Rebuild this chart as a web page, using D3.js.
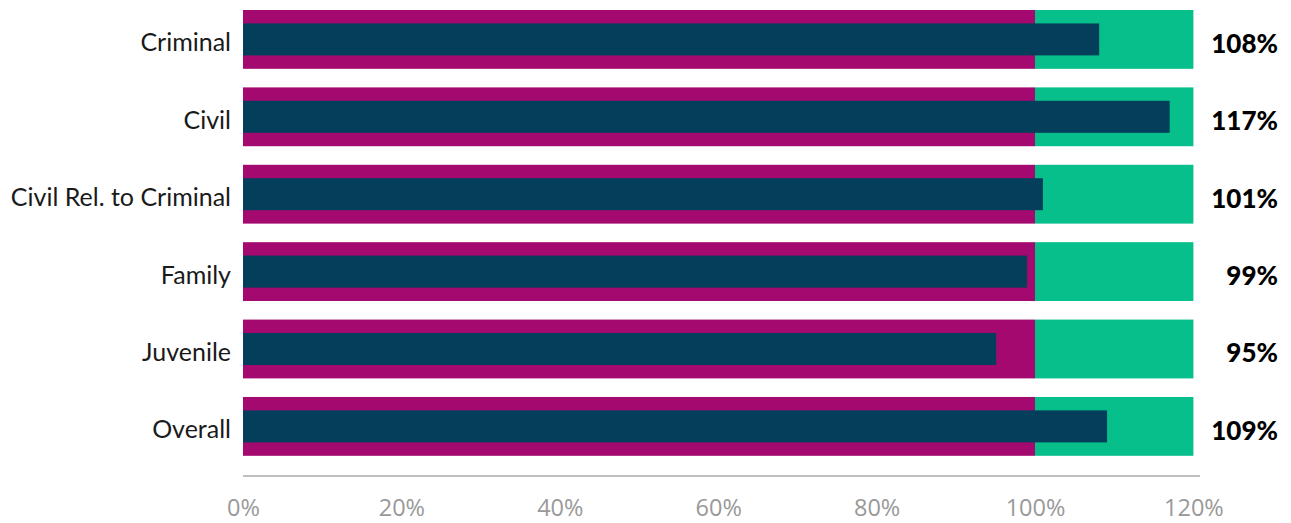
<!DOCTYPE html>
<html><head><meta charset="utf-8">
<script src="https://cdn.jsdelivr.net/npm/d3@7"></script>
<style>body{margin:0;background:#fff}svg{display:block}</style>
</head><body><svg id="c" width="1291" height="523"></svg>
<script>
const categories = ["Criminal","Civil","Civil Rel. to Criminal","Family","Juvenile","Overall"];
const values = [108.1, 117.0, 101.0, 99.0, 95.1, 109.1];
const labels = ["108%","117%","101%","99%","95%","109%"];
const bandLow = 100;
const bandHigh = 120;
const ticks = [0,20,40,60,80,100,120];

const svg = d3.select("#c");
const x = d3.scaleLinear().domain([0,120]).range([243,1193.4]);
const y = d3.scaleBand().domain(categories).range([10,455.8]).paddingInner(0.24).paddingOuter(0);
const innerH = 32;

const g = svg.append("g");
categories.forEach((c,i)=>{
  g.append("rect").attr("x",x(0)).attr("y",y(c)).attr("width",x(bandLow)-x(0)).attr("height",y.bandwidth()).attr("fill","#A4096F");
  g.append("rect").attr("x",x(bandLow)).attr("y",y(c)).attr("width",x(bandHigh)-x(bandLow)).attr("height",y.bandwidth()).attr("fill","#06BF8B");
  g.append("rect").attr("x",x(0)).attr("y",y(c)+(y.bandwidth()-innerH)/2).attr("width",x(values[i])-x(0)).attr("height",innerH).attr("fill","#033F5A");
  g.append("text").attr("x",231).attr("y",y(c)+y.bandwidth()/2+3).attr("dy","0.36em").attr("text-anchor","end")
    .attr("font-family","Lato, sans-serif").attr("font-size",25).attr("fill","#1a1a1a").text(c);
  g.append("text").attr("x",1278).attr("y",y(c)+y.bandwidth()/2+4).attr("dy","0.36em").attr("text-anchor","end")
    .attr("font-family","Lato, sans-serif").attr("font-weight","900").attr("font-size",26).attr("fill","#000").text(labels[i]);
});

const ax = svg.append("g").attr("transform","translate(0,476)")
  .call(d3.axisBottom(x).tickValues(ticks).tickFormat(d=>d+"%").tickSize(0).tickPadding(23));
ax.select(".domain").attr("d","M243,0H1200").attr("stroke","#a6a9ad").attr("stroke-width",1.5);
ax.selectAll("text").attr("font-family","Open Sans, sans-serif").attr("font-size",23.5).attr("fill","#999");
</script></body></html>
